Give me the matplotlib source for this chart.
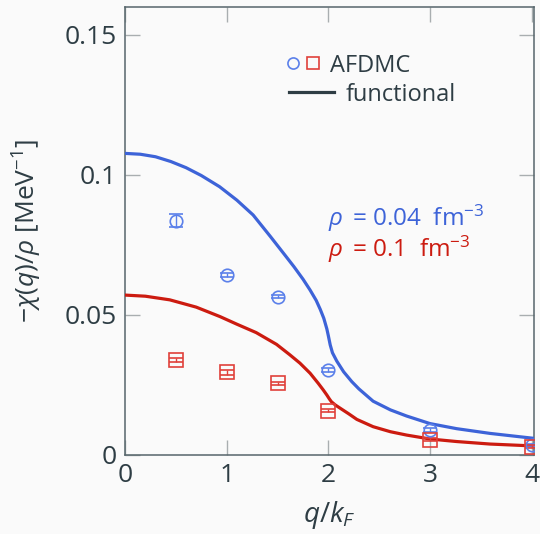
import matplotlib

matplotlib.use("Agg")
import matplotlib.pyplot as plt
from matplotlib.lines import Line2D

plt.rcParams.update(
    {
        "font.family": ["Open Sans", "DejaVu Sans"],
        "font.size": 18,
        "mathtext.fontset": "custom",
        "mathtext.rm": "Open Sans",
        "mathtext.it": "Open Sans:italic",
        "mathtext.bf": "Open Sans:bold",
        "mathtext.sf": "Open Sans",
    }
)
BLUE, RED = "#3d63d8", "#cc1b10"
BLUE_PT, RED_PT = "#5b80ea", "#e0403a"
INK, BG = "#2e3d44", "#fafafa"

# AFDMC points (q/kF, -chi/rho, error)
q_pts = [0.5, 1.0, 1.5, 2.0, 3.0, 4.0]
afdmc_low = [0.0837, 0.0642, 0.0565, 0.0304, 0.0089, 0.0036]
afdmc_low_err = [0.0024, 0.0008, 0.0006, 0.0008, 0.0006, 0.0004]
afdmc_high = [0.0339, 0.0295, 0.0256, 0.0158, 0.0054, 0.0030]
afdmc_high_err = [0.0008, 0.0008, 0.0006, 0.0006, 0.0005, 0.0004]

# functional curves
q_low = [0.0, 0.15, 0.3, 0.45, 0.6, 0.75, 0.93, 1.1, 1.26, 1.43, 1.57, 1.66,
         1.75, 1.82, 1.88, 1.92, 1.955, 1.985, 2.0, 2.018, 2.04, 2.083, 2.15,
         2.23, 2.3, 2.44, 2.61, 2.77, 3.0, 3.26, 3.59, 4.03]
chi_low = [0.1077, 0.1074, 0.1065, 0.1048, 0.1026, 0.0998, 0.0958, 0.0910,
           0.0857, 0.0780, 0.0715, 0.0673, 0.0628, 0.0589, 0.0552, 0.0520,
           0.0488, 0.0450, 0.0425, 0.0393, 0.0365, 0.0335, 0.0297, 0.0262,
           0.0236, 0.0192, 0.0161, 0.0139, 0.0112, 0.0094, 0.0077, 0.0059]
q_high = [0.0, 0.2, 0.44, 0.7, 0.935, 1.1, 1.29, 1.49, 1.62, 1.72, 1.82, 1.9,
          1.95, 1.985, 2.01, 2.03, 2.07, 2.12, 2.2, 2.28, 2.44, 2.61, 2.77,
          3.0, 3.26, 3.59, 4.03]
chi_high = [0.0571, 0.0567, 0.0554, 0.0528, 0.0494, 0.0467, 0.0437, 0.0395,
            0.0358, 0.0328, 0.0292, 0.0256, 0.0232, 0.0214, 0.0200, 0.0190,
            0.0178, 0.0166, 0.0147, 0.0127, 0.0101, 0.0083, 0.0071, 0.0057,
            0.0048, 0.0039, 0.0032]

fig = plt.figure(figsize=(5.4, 5.34), dpi=100, facecolor=BG)
ax = fig.add_axes([0.2315, 0.148, 0.757, 0.839], facecolor=BG)

ax.plot(q_low, chi_low, color=BLUE, lw=2.3, zorder=3, solid_joinstyle="round")
ax.plot(q_high, chi_high, color=RED, lw=2.3, zorder=3, solid_joinstyle="round")
ax.errorbar(q_pts, afdmc_low, yerr=afdmc_low_err, fmt="o", ms=9, mfc="none",
            mec=BLUE_PT, mew=1.2, ecolor=BLUE_PT, elinewidth=1.0, capsize=5,
            zorder=4)
ax.errorbar(q_pts, afdmc_high, yerr=afdmc_high_err, fmt="s", ms=9.5, mfc="none",
            mec=RED_PT, mew=1.2, ecolor=RED_PT, elinewidth=1.0, capsize=5,
            zorder=4)

ax.text(2.0, 0.0818, r"$\rho\,$ = 0.04  fm$^{-3}$", color=BLUE, fontsize=17.5)
ax.text(2.0, 0.0706, r"$\rho\,$ = 0.1  fm$^{-3}$", color=RED, fontsize=17.5)

# legend, laid out by hand (AFDMC and functional texts are not aligned)
ax.add_line(Line2D([0.411], [0.875], transform=ax.transAxes, marker="o", ls="none",
                   ms=8, mfc="none", mec=BLUE_PT, mew=1.2))
ax.add_line(Line2D([0.460], [0.875], transform=ax.transAxes, marker="s", ls="none",
                   ms=8, mfc="none", mec=RED_PT, mew=1.2))
ax.add_line(Line2D([0.401, 0.511], [0.810, 0.810], transform=ax.transAxes,
                   color=INK, lw=2.3))
ax.text(0.501, 0.875, "AFDMC", transform=ax.transAxes, color=INK, fontsize=17,
        va="center_baseline", ha="left")
ax.text(0.540, 0.810, "functional", transform=ax.transAxes, color=INK,
        fontsize=17, va="center_baseline", ha="left")

ax.set_xlim(0, 4.02)
ax.set_ylim(0, 0.16)
ax.set_xticks([0, 1, 2, 3, 4])
ax.set_yticks([0, 0.05, 0.1, 0.15])
ax.set_yticklabels(["0", "0.05", "0.1", "0.15"])
ax.tick_params(direction="in", length=11, width=1, color="#a9aeb0",
               labelcolor=INK, labelsize=19, top=True, right=True, pad=6)
for s in ax.spines.values():
    s.set_color("#56656b")
    s.set_linewidth(1.1)

ax.set_xlabel(r"$q/k_F$", color=INK, fontsize=20, labelpad=8)
ax.set_ylabel(r"$-\chi(q)/\rho$ [MeV$^{-1}$]", color=INK, fontsize=19,
              labelpad=15)

fig.savefig("out.png", dpi=100, facecolor=BG)
